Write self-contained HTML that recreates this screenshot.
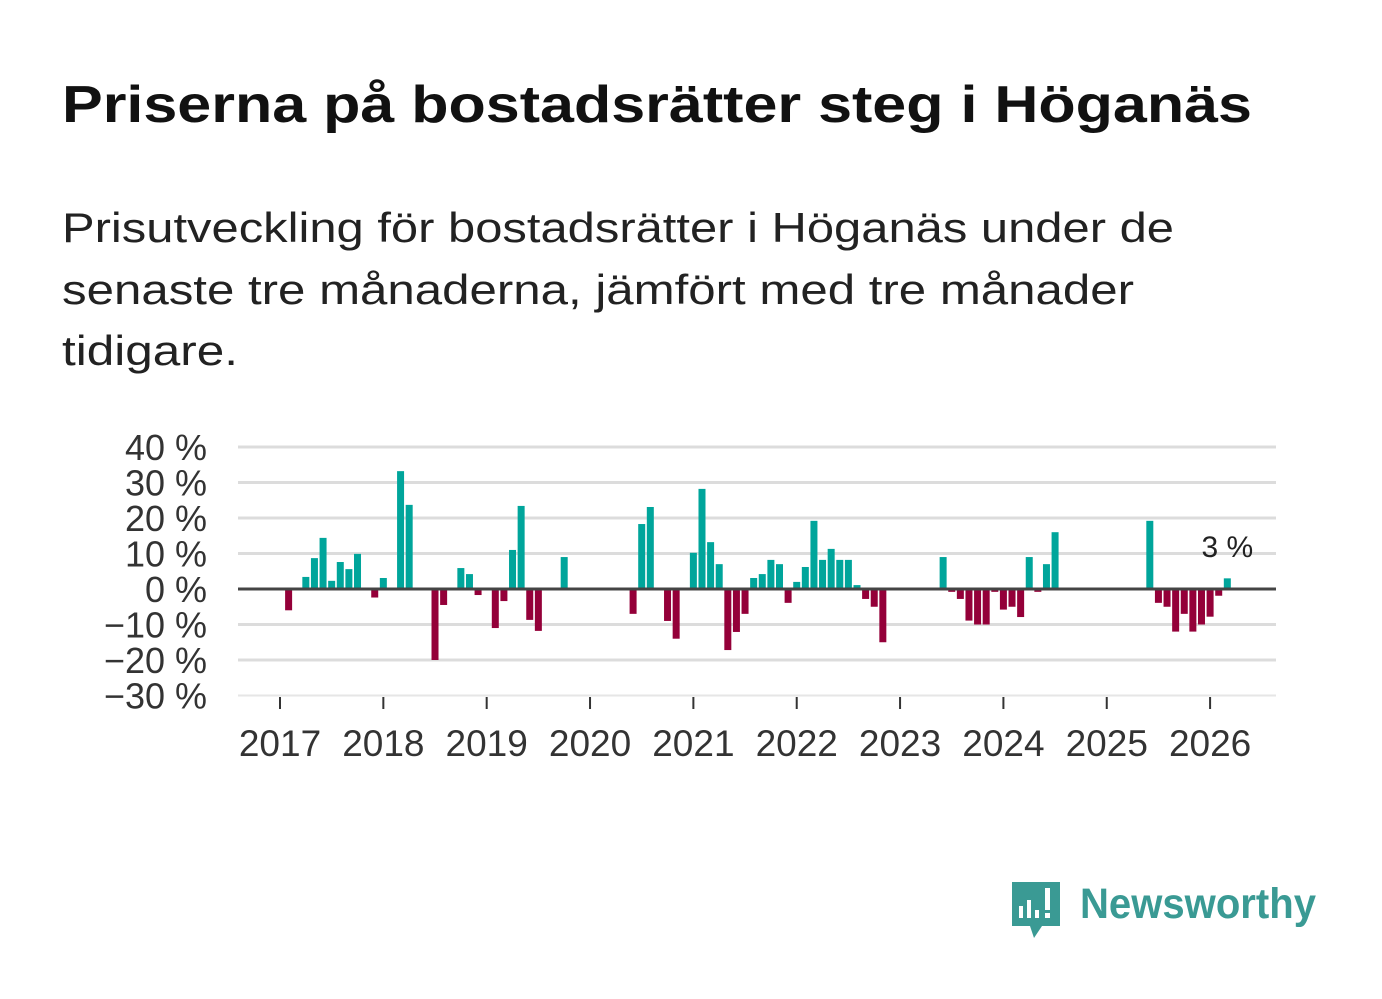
<!DOCTYPE html>
<html><head><meta charset="utf-8"><style>
html,body{margin:0;padding:0;background:#fff;}
svg{display:block;font-family:"Liberation Sans",sans-serif;}
</style></head><body>
<svg id="chart" width="1382" height="999" viewBox="0 0 1382 999" xmlns="http://www.w3.org/2000/svg">
<text x="62" y="122" font-size="52" font-weight="bold" fill="#111" textLength="1190" lengthAdjust="spacingAndGlyphs">Priserna på bostadsrätter steg i Höganäs</text>
<g font-size="42" fill="#222">
<text x="62" y="242" textLength="1112" lengthAdjust="spacingAndGlyphs">Prisutveckling för bostadsrätter i Höganäs under de</text>
<text x="62" y="304" textLength="1072" lengthAdjust="spacingAndGlyphs">senaste tre månaderna, jämfört med tre månader</text>
<text x="62" y="365" textLength="176" lengthAdjust="spacingAndGlyphs">tidigare.</text>
</g>
<g id="grid"></g><g id="bars"></g><g id="axes"></g>
<g>
<path d="M1012 882 h48 v44 h-18 l-8 12 l-4 -12 h-18 z" fill="#3a9a94"/>
<rect x="1019" y="906" width="4" height="12" fill="#fff"/>
<rect x="1027" y="900" width="4" height="18" fill="#fff"/>
<rect x="1035" y="910" width="4" height="8" fill="#fff"/>
<rect x="1045" y="888" width="5" height="22" fill="#fff"/>
<rect x="1045" y="913" width="5" height="5" fill="#fff"/>
<text x="1080" y="918" font-size="43" font-weight="bold" fill="#3a9a94" textLength="236" lengthAdjust="spacingAndGlyphs">Newsworthy</text>
</g>
</svg>
<script>
const monthIndex=[1,3,4,5,6,7,8,9,11,12,14,15,18,19,21,22,23,25,26,27,28,29,30,33,41,42,43,45,46,48,49,50,51,52,53,54,55,56,57,58,59,60,61,62,63,64,65,66,67,68,69,70,77,78,79,80,81,82,83,84,85,86,87,88,89,90,101,102,103,104,105,106,107,108,109,110];
const values=[-6,3.4,8.7,14.4,2.3,7.6,5.6,9.9,-2.4,3.1,33.2,23.7,-20,-4.5,5.9,4.2,-1.7,-11,-3.4,11,23.4,-8.7,-11.8,9,-7,18.3,23.1,-9,-14,10.2,28.2,13.2,7,-17.2,-12.1,-7,3.1,4.2,8.2,7,-3.9,2,6.2,19.2,8.2,11.3,8.2,8.2,1.1,-2.8,-5,-15,9,-0.8,-2.8,-8.9,-10,-10,-0.8,-5.8,-5,-7.9,9,-0.8,7,16,19.2,-3.9,-5,-12,-7,-12,-10,-7.8,-1.9,3];
const yTicks=[40,30,20,10,0,-10,-20,-30];
const years=[2017,2018,2019,2020,2021,2022,2023,2024,2025,2026];
const lastLabel="3 %";
const NS="http://www.w3.org/2000/svg";
const X0=238,X1=1276;
const xm=i=>280+i*8.612;
const y=v=>589-v*3.55;
function mk(t,a,p){const e=document.createElementNS(NS,t);for(const k in a)e.setAttribute(k,a[k]);p.appendChild(e);return e;}
const grid=document.getElementById('grid'),bars=document.getElementById('bars'),axes=document.getElementById('axes');
yTicks.forEach(v=>{
 if(v!==0){const l=mk('line',{x1:X0,x2:X1,y1:y(v),y2:y(v),stroke:v===-30?'#e6e6e6':'#dcdcdc','stroke-width':v===-30?2:3},grid);
 
 }
 const t=mk('text',{x:207,y:y(v)+13,'text-anchor':'end','font-size':36,fill:'#333'},axes);
 t.textContent=(v<0?'\u2212'+(-v):v)+' %';
 
 
});
monthIndex.forEach((m,k)=>{
 const v=values[k];
 const r=mk('rect',{x:xm(m)-3.5,width:7,y:Math.min(y(v),y(0)),height:Math.abs(y(v)-y(0)),fill:v>=0?'#00a59b':'#940039'},bars);
 
 
});
const z=mk('line',{x1:X0,x2:X1,y1:y(0),y2:y(0),stroke:'#444','stroke-width':3},axes);


years.forEach((yr,i)=>{
 const x=xm(i*12);
 const tk=mk('line',{x1:x,x2:x,y1:697,y2:709,stroke:'#333','stroke-width':2},axes);
 
 
 const t=mk('text',{x:x,y:756,'text-anchor':'middle','font-size':37,fill:'#333'},axes);
 t.textContent=yr;
 
 
});
const lm=monthIndex[monthIndex.length-1];
const lb=mk('text',{x:xm(lm),y:557,'text-anchor':'middle','font-size':30,fill:'#222'},axes);
lb.textContent=lastLabel;


</script>
</body></html>
